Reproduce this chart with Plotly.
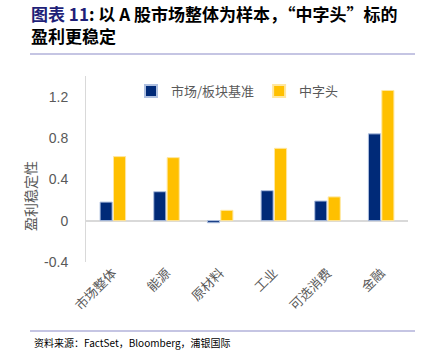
import plotly.graph_objects as go

categories = ["市场整体", "能源", "原材料", "工业", "可选消费", "金融"]
benchmark = [0.18, 0.28, -0.02, 0.29, 0.19, 0.84]
zhongzitou = [0.62, 0.61, 0.10, 0.70, 0.23, 1.26]
series_names = ["市场/板块基准", "中字头"]
y_ticks = [-0.4, 0, 0.4, 0.8, 1.2]
y_tick_labels = ["-0.4", "0", "0.4", "0.8", "1.2"]

W, H = 425, 354
font = "Noto Sans CJK SC"
gray = "#595959"

fig = go.Figure()
fig.add_trace(go.Bar(x=categories, y=benchmark, name=series_names[0],
                     marker=dict(color="#002A78", line=dict(color="#AFC0E0", width=1))))
fig.add_trace(go.Bar(x=categories, y=zhongzitou, name=series_names[1],
                     marker=dict(color="#FFC000", line=dict(color="#FFE7A0", width=1))))

fig.update_layout(
    width=W, height=H,
    margin=dict(l=86, r=17, t=76, b=92),
    paper_bgcolor="white", plot_bgcolor="white",
    font=dict(family=font, color=gray, size=13),
    barmode="group", bargap=0.5, bargroupgap=0.1,
    showlegend=True,
    legend=dict(orientation="h", x=(131 - 86) / 322, y=1.0, xanchor="left", yanchor="top",
                font=dict(size=13, color=gray), itemwidth=30,
                bgcolor="rgba(0,0,0,0)", tracegroupgap=0, itemsizing="constant"),
    xaxis=dict(tickangle=-45, tickfont=dict(size=13, color=gray), showgrid=False,
               showline=False, ticks=""),
    yaxis=dict(range=[-0.4, 1.4], tickvals=y_ticks, ticktext=y_tick_labels,
               tickfont=dict(family="Liberation Sans, Arial", size=14, color=gray),
               showgrid=False, zeroline=True, zerolinecolor="#D9D9D9", zerolinewidth=1.5,
               showline=True, linecolor="#D9D9D9", linewidth=1, ticks="",
               ticklabelstandoff=14),
)

# Y axis title (placed lower than centre, as in the reference)
fig.add_annotation(text="盈利稳定性", textangle=-90, xref="paper", yref="paper",
                   x=(30 - 86) / 322, y=(262 - 196) / 186, xanchor="center", yanchor="middle",
                   showarrow=False, font=dict(size=14, color=gray, family=font))

# Title (two lines in one block)
fig.add_annotation(
    text="<b><span style='color:#1F1F78'>图表 11</span>: 以 A 股市场整体为样本，“中字头”标的<br>盈利更稳定</b>",
    xref="paper", yref="paper", x=(30 - 86) / 322, y=1 + 76 / 186,
    xanchor="left", yanchor="top", align="left", showarrow=False, borderpad=0,
    font=dict(size=17, color="#000000", family=font))

# Separator lines
fig.add_shape(type="line", xref="paper", yref="paper",
              x0=(30 - 86) / 322, x1=(415 - 86) / 322,
              y0=1 + (76 - 54) / 186, y1=1 + (76 - 54) / 186,
              line=dict(color="#8C8CC8", width=1.2))
fig.add_shape(type="line", xref="paper", yref="paper",
              x0=(30 - 86) / 322, x1=(415 - 86) / 322,
              y0=(262 - 331) / 186, y1=(262 - 331) / 186,
              line=dict(color="#8C8CC8", width=1.2))

# Footer
fig.add_annotation(text="资料来源：FactSet，Bloomberg，浦银国际",
                   xref="paper", yref="paper", x=(32 - 86) / 322, y=(262 - 342) / 186,
                   xanchor="left", yanchor="middle", showarrow=False,
                   font=dict(size=10, color="#000000", family=font))

fig.write_html("out.html")
